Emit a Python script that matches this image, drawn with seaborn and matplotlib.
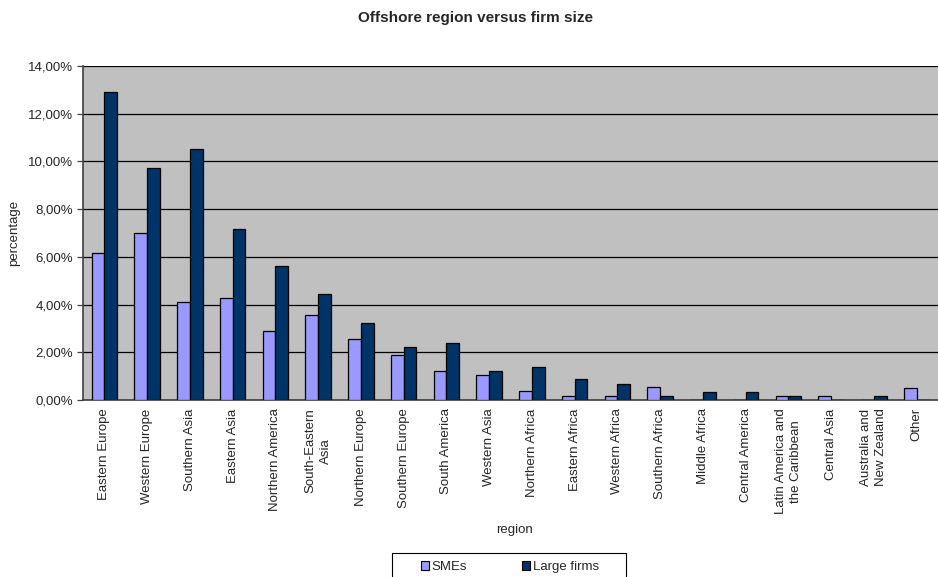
import matplotlib
matplotlib.use("Agg")
import matplotlib.pyplot as plt
import seaborn as sns
import pandas as pd
from matplotlib.ticker import FuncFormatter, FixedLocator
from matplotlib.patches import Patch, Rectangle

regions = [
    "Eastern Europe", "Western Europe", "Southern Asia", "Eastern Asia",
    "Northern America", "South-Eastern\nAsia", "Northern Europe",
    "Southern Europe", "South America", "Western Asia", "Northern Africa",
    "Eastern Africa", "Western Africa", "Southern Africa", "Middle Africa",
    "Central America", "Latin America and\nthe Caribbean", "Central Asia",
    "Australia and\nNew Zealand", "Other",
]
smes = [6.15, 6.98, 4.09, 4.26, 2.90, 3.58, 2.56, 1.89, 1.21, 1.03, 0.36,
        0.18, 0.18, 0.53, 0.0, 0.0, 0.18, 0.18, 0.0, 0.50]
large_firms = [12.92, 9.71, 10.54, 7.15, 5.61, 4.43, 3.24, 2.23, 2.40, 1.20,
               1.38, 0.87, 0.69, 0.17, 0.35, 0.35, 0.17, 0.0, 0.17, 0.0]
series_names = ["SMEs", "Large firms"]
series_colors = ["#9999FF", "#003366"]

df = pd.DataFrame({
    "region": regions * 2,
    "value": smes + large_firms,
    "size": [series_names[0]] * len(regions) + [series_names[1]] * len(regions),
})

sns.set_style("white")
plt.rcParams["font.family"] = ["Liberation Sans", "DejaVu Sans"]
FS = 9.5

fig = plt.figure(figsize=(9.38, 5.77), dpi=100)
ax = fig.add_axes([83 / 938, 1 - 400 / 577, 855 / 938, 334 / 577])
ax.set_facecolor("#C0C0C0")

sns.barplot(data=df, x="region", y="value", hue="size", order=regions,
            hue_order=series_names, palette=series_colors, saturation=1,
            width=0.6, gap=0, edgecolor="black", linewidth=0.9,
            legend=False, ax=ax, zorder=3)

ax.set_ylim(0, 14)
ax.set_xlim(-0.5, len(regions) - 0.5)
ax.yaxis.set_major_locator(FixedLocator([i * 2 for i in range(8)]))
ax.yaxis.set_major_formatter(
    FuncFormatter(lambda v, p: f"{v:.2f}%".replace(".", ",")))
ax.grid(axis="y", color="black", linewidth=0.9, zorder=1)
ax.set_axisbelow(True)

# category boundary ticks on the x axis
ax.set_xticks([i + 0.5 for i in range(-1, len(regions))], minor=True)
ax.tick_params(axis="x", which="major", length=0, pad=6)
ax.tick_params(axis="x", which="minor", length=4, width=0.9, color="#404040")
ax.tick_params(axis="y", which="major", length=4, width=0.9, color="#404040",
               left=True, pad=3, labelsize=FS)
ax.set_xticks(range(len(regions)))
ax.set_xticklabels(regions, rotation=90, ha="center", va="top",
                   multialignment="center", fontsize=FS, linespacing=1.35)

for side in ["top", "right"]:
    ax.spines[side].set_visible(False)
for side in ["left", "bottom"]:
    ax.spines[side].set_color("#404040")
    ax.spines[side].set_linewidth(1.2)

ax.set_xlabel("region", fontsize=FS)
ax.set_ylabel("percentage", fontsize=FS)
ax.xaxis.set_label_coords(0.505, -0.371)
ax.yaxis.set_label_coords(-0.074, 0.5)

fig.text(475 / 938, 1 - 18 / 577, "Offshore region versus firm size",
         ha="center", va="center", fontsize=11, fontweight="bold")

# legend box
fig.patches.append(Rectangle((392 / 938, -0.01), 234 / 938, (577 - 553) / 577 + 0.01,
                             transform=fig.transFigure, facecolor="white",
                             edgecolor="black", linewidth=0.8, zorder=1))
handles = [Patch(facecolor=c, edgecolor="black", linewidth=0.8)
           for c in series_colors]
leg = fig.legend(handles, series_names, loc="center left", ncol=2,
                 bbox_to_anchor=(421 / 938, 1 - 567 / 577), frameon=False,
                 fontsize=FS, handlelength=0.6, handleheight=0.6,
                 handletextpad=0.2, columnspacing=4.2, borderpad=0,
                 borderaxespad=0)

fig.savefig("out.png", dpi=100)
